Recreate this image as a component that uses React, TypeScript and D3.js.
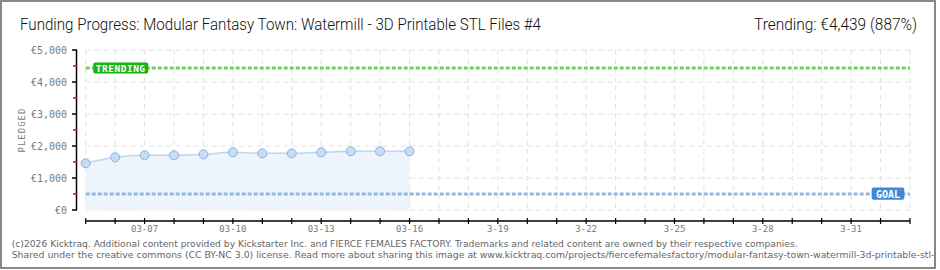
import React from "react";
import * as d3 from "d3";

// pledge history (EUR), one point per day from 03-05
const dates = [
  "2026-03-05", "2026-03-06", "2026-03-07", "2026-03-08", "2026-03-09", "2026-03-10",
  "2026-03-11", "2026-03-12", "2026-03-13", "2026-03-14", "2026-03-15", "2026-03-16",
];
const pledged = [1459, 1646, 1709, 1709, 1740, 1803, 1771, 1771, 1803, 1834, 1834, 1834];

const goal = 500;
const trending = 4439;
const yTicks = [0, 1000, 2000, 3000, 4000, 5000];
const yMinorTicks = [500, 1500, 2500, 3500, 4500];
const xLabelDates = ["2026-03-07", "2026-03-10", "2026-03-13", "2026-03-16", "2026-03-19", "2026-03-22", "2026-03-25", "2026-03-28", "2026-03-31"];
const xLabels = ["03-07", "03-10", "03-13", "03-16", "3-19", "3-22", "3-25", "3-28", "3-31"];

const title = "Funding Progress: Modular Fantasy Town: Watermill - 3D Printable STL Files #4";
const trendText = "Trending:  €4,439 (887%)";
const footer1 = "(c)2026 Kicktraq. Additional content provided by Kickstarter Inc. and FIERCE FEMALES FACTORY. Trademarks and related content are owned by their respective companies.";
const footer2 = "Shared under the creative commons (CC BY-NC 3.0) license. Read more about sharing this image at www.kicktraq.com/projects/fiercefemalesfactory/modular-fantasy-town-watermill-3d-printable-stl-f";

const parse = d3.timeParse("%Y-%m-%d");

export default function App() {
  const width = 940, height = 270;
  const left = 85.7, right = 910, top = 50, bottom = 210;

  const x = d3.scaleTime()
    .domain([parse("2026-03-05")!, parse("2026-04-02")!])
    .range([left, right]);
  const y = d3.scaleLinear().domain([0, 5000]).range([bottom, top]);

  const series = dates.map((d, i) => ({ x: parse(d)!, y: pledged[i] }));
  const days = d3.timeDay.range(parse("2026-03-05")!, d3.timeDay.offset(parse("2026-04-02")!, 1));

  const area = d3.area<any>().x(d => x(d.x)).y0(y(0)).y1(d => y(d.y)).curve(d3.curveMonotoneX);
  const line = d3.line<any>().x(d => x(d.x)).y(d => y(d.y)).curve(d3.curveMonotoneX);

  const axisFont = "'DejaVu Sans Mono', monospace";
  const gray = "#7a7a7a";

  return (
    <svg width={width} height={height} style={{ position: "absolute", left: 0, top: 0, background: "#fff" }}>
      <defs>
        <clipPath id="frame"><rect x={1} y={1} width={934} height={267} /></clipPath>
      </defs>

      <text x={20} y={30} fontFamily="Roboto, sans-serif" fontWeight={300} fontSize={16.5}
        fill="#111" textLength={521} lengthAdjust="spacingAndGlyphs">{title}</text>
      <text x={754} y={30} fontFamily="Roboto, sans-serif" fontWeight={300} fontSize={16.5}
        fill="#111" textLength={163} lengthAdjust="spacingAndGlyphs">{trendText}</text>

      {/* grid */}
      {yTicks.map(t => (
        <line key={"gy" + t} x1={left} x2={right} y1={y(t)} y2={y(t)} stroke="#e2e2e2" strokeDasharray="5,4" />
      ))}
      {days.map((d, i) => (
        <line key={"gx" + i} x1={x(d)} x2={x(d)} y1={top} y2={bottom} stroke="#e2e2e2" strokeDasharray="5,4" />
      ))}

      {/* pledged area */}
      <path d={area(series)!} fill="#edf4fc" />
      <path d={line(series)!} fill="none" stroke="#bcd6f2" strokeWidth={1.5} />

      {/* trending & goal lines */}
      <line x1={left} x2={right} y1={y(trending)} y2={y(trending)} stroke="#6fd163" strokeWidth={3} strokeDasharray="4,2" />
      <line x1={left} x2={right} y1={y(goal)} y2={y(goal)} stroke="#92b8e2" strokeWidth={3} strokeDasharray="4,2" />

      {series.map((p, i) => (
        <circle key={"p" + i} cx={x(p.x)} cy={y(p.y)} r={4.5} fill="#c6ddf7" stroke="#8eb0d8" strokeWidth={1} />
      ))}

      {/* labels on lines */}
      <rect x={left + 7.6} y={y(trending) - 5.5} width={55} height={11} rx={2} fill="#17b317" />
      <text x={left + 35} y={y(trending) + 3.8} textAnchor="middle" fontFamily={axisFont} fontSize={9.5}
        fontWeight="bold" fill="#fff" letterSpacing={0.5}>TRENDING</text>
      <rect x={right - 38.3} y={y(goal) - 6.5} width={32.6} height={12.3} rx={2} fill="#3e8ad6" />
      <text x={right - 22} y={y(goal) + 3.5} textAnchor="middle" fontFamily={axisFont} fontSize={10}
        fontWeight="bold" fill="#fff">GOAL</text>

      {/* y axis */}
      <line x1={76.5} x2={76.5} y1={top} y2={bottom} stroke="#000" strokeWidth={1.5} />
      {yTicks.map(t => (
        <g key={"yt" + t}>
          <line x1={72} x2={77} y1={y(t)} y2={y(t)} stroke="#000" strokeWidth={1.5} />
          <text x={67} y={y(t) + 3.5} textAnchor="end" fontFamily={axisFont} fontSize={10} fill={gray}>
            {"€" + d3.format(",")(t)}
          </text>
        </g>
      ))}
      {yMinorTicks.map(t => (
        <line key={"ym" + t} x1={73} x2={77} y1={y(t)} y2={y(t)} stroke="#e00000" strokeWidth={1.5} />
      ))}
      <text transform={`translate(25,${(top + bottom) / 2}) rotate(-90)`} textAnchor="middle"
        fontFamily={axisFont} fontSize={9} fill={gray} letterSpacing={1}>PLEDGED</text>

      {/* x axis */}
      <line x1={left} x2={right} y1={221} y2={221} stroke="#000" strokeWidth={1.5} />
      {days.map((d, i) => (
        <line key={"xt" + i} x1={x(d)} x2={x(d)} y1={218} y2={224} stroke="#000" strokeWidth={1.2} />
      ))}
      {xLabelDates.map((d, i) => (
        <text key={"xl" + i} x={x(parse(d)!)} y={232} textAnchor="middle" fontFamily={axisFont}
          fontSize={9} fill={gray}>{xLabels[i]}</text>
      ))}

      {/* footer */}
      <g clipPath="url(#frame)">
        <text x={11.7} y={247} fontFamily="'DejaVu Sans', Verdana, sans-serif" fontSize={9} fill="#666"
          textLength={786} lengthAdjust="spacingAndGlyphs">{footer1}</text>
        <text x={11.7} y={257.5} fontFamily="'DejaVu Sans', Verdana, sans-serif" fontSize={9} fill="#666"
          textLength={926} lengthAdjust="spacingAndGlyphs">{footer2}</text>
      </g>

      {/* frame */}
      <rect x={1} y={1} width={934} height={267} fill="none" stroke="#888" strokeWidth={2} />
    </svg>
  );
}
